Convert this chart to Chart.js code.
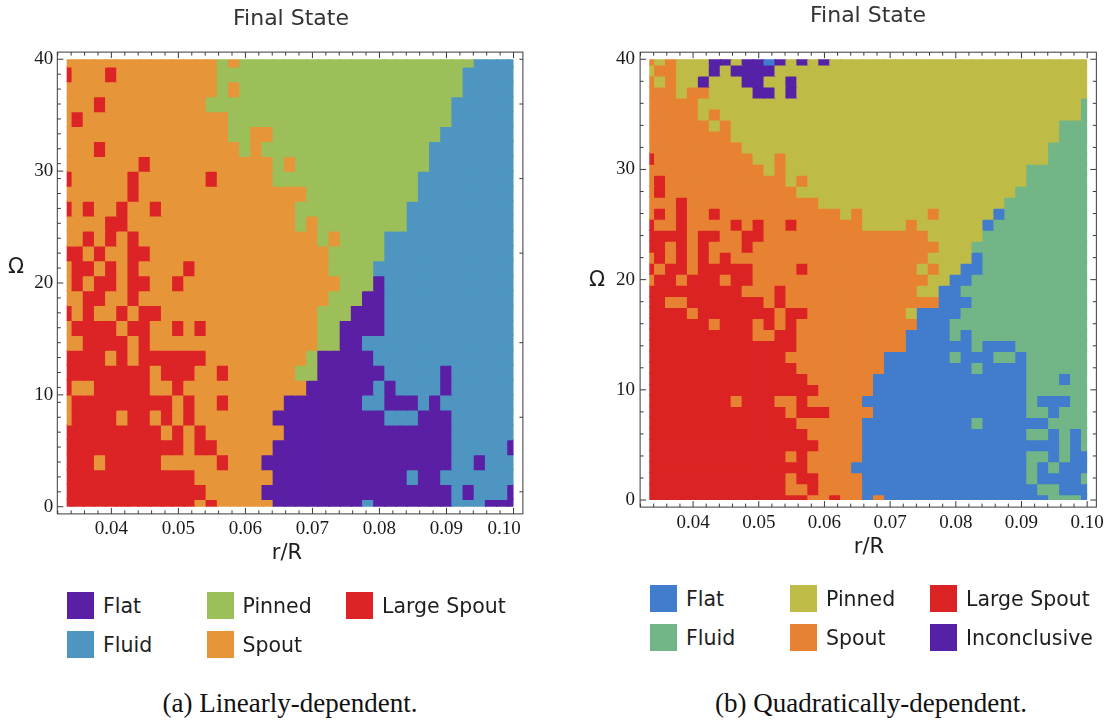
<!DOCTYPE html>
<html>
<head>
<meta charset="utf-8">
<title>Final State</title>
<script src="https://cdn.jsdelivr.net/npm/chart.js@4.4.1/dist/chart.umd.min.js"></script>
<style>
  html, body { margin: 0; padding: 0; background: #ffffff; }
  body { position: relative; width: 1109px; height: 721px; overflow: hidden;
         font-family: "DejaVu Sans", sans-serif; color: #1e1e1e; }
  canvas { position: absolute; top: 0; }
  .lbl { position: absolute; white-space: nowrap; transform: translate(-50%, -50%); line-height: 1; }
  .title { font-size: 22px; color: #333333; }
  .axis { font-size: 21px; color: #1e1e1e; }
  .caption { font-family: "Liberation Serif", serif; font-size: 27px; color: #111111; }
  .key { position: absolute; width: 27px; height: 27px; }
  .keytext { position: absolute; font-size: 20.5px; transform: translateY(-50%); white-space: nowrap; line-height: 1; color: #1e1e1e; }
</style>
</head>
<body>
<canvas id="linear" width="555" height="560" style="left:0px;width:555px;height:560px"></canvas>
<canvas id="quadratic" width="554" height="560" style="left:555px;width:554px;height:560px"></canvas>
<div id="labels"></div>
<script>
// Parameter ranges of the sweep
const R_RANGE = [1 / 30, 0.1];
const OMEGA_RANGE = [0, 40];

// Tick marks
const rMajorTicks = [0.04, 0.05, 0.06, 0.07, 0.08, 0.09, 0.10];
const rMinorStep = 0.002;
const omegaMajorTicks = [0, 10, 20, 30, 40];

// Final-state categories
const stateNames = { F: 'Flat', U: 'Fluid', N: 'Pinned', S: 'Spout', L: 'Large Spout', I: 'Inconclusive' };
const linearLegendOrder = ['F', 'N', 'L', 'U', 'S'];
const quadraticLegendOrder = ['F', 'N', 'L', 'U', 'S', 'I'];

// Linearly-dependent run: one row per Omega sample (top row = 40, bottom row = 0),
// run-length coded along r/R (41 samples per row).
const linearStates = [
  '14S 1N 1S 21N 4U',
  '1L 3S 1L 9S 22N 5U',
  '14S 1N 1S 20N 5U',
  '3S 1L 9S 22N 6U',
  '1S 1L 13S 20N 6U',
  '15S 2N 2S 15N 7U',
  '3S 1L 12S 1N 1S 15N 8U',
  '7S 1L 11S 1N 1S 12N 8U',
  '1L 5S 1L 6S 1L 5S 13N 9U',
  '6S 1L 15S 10N 9U',
  '1L 1S 1L 2S 1L 2S 1L 12S 10N 10U',
  '4S 2L 15S 1N 1S 8N 10U',
  '2S 1L 1S 1L 1S 1L 16S 1N 1S 4N 12U',
  '2L 1S 1L 2S 2L 16S 5N 12U',
  '1S 2L 1S 1L 1S 1L 4S 1L 12S 4N 13U',
  '1S 1L 1S 2L 1S 2L 2S 1L 14S 3N 1F 12U',
  '2S 2L 2S 1L 17S 3N 2F 12U',
  '1L 1S 1L 2S 1L 1S 2L 14S 3N 3F 12U',
  '1S 4L 1S 2L 2S 1L 1S 1L 10S 2N 4F 12U',
  '2S 4L 1S 1L 15S 2N 2F 14U',
  '4L 1S 1L 1S 6L 9S 1N 5F 13U',
  '8L 1S 3L 2S 1L 6S 2N 6F 5U 1F 6U',
  '1L 2S 5L 2S 1L 11S 6F 1U 1F 4U 1F 6U',
  '1S 9L 1S 1L 2S 1L 5S 7F 2U 3F 1U 1F 7U',
  '1S 4L 1S 2L 1S 1L 1S 1L 7S 10F 3U 3F 6U',
  '9L 1S 1L 1S 1L 7S 15F 6U',
  '11L 1S 2L 5S 16F 5U 1F',
  '3L 1S 5L 5S 1L 3S 17F 2U 1F 3U',
  '12L 7S 12F 1U 2F 7U',
  '13L 5S 17F 1U 1F 3U 1F',
  '12L 1S 1L 5S 8F 1U 7F 3U 3F'
];

// Quadratically-dependent run: 41 Omega rows (top = 40) x 41 r/R samples.
const quadraticStates = [
  '1S 1N 1S 3N 2I 1N 2I 1F 1I 1N 1I 1N 1I 24N',
  '1N 2S 3N 1I 1N 4I 29N',
  '1S 1N 1S 2N 1I 3N 2I 2N 1I 27N',
  '3S 1N 2S 4N 2I 1N 1I 27N',
  '5S 35N 1U',
  '5S 1N 1S 33N 1U',
  '6S 1N 1S 30N 3U',
  '8S 30N 3U',
  '9S 28N 4U',
  '1L 9S 2N 1S 24N 4U',
  '11S 1N 1S 22N 6U',
  '1S 1L 11S 1N 1S 20N 6U',
  '1S 1L 12S 20N 7U',
  '3S 1L 12S 17N 8U',
  '1S 1L 1S 1L 2S 1L 11S 1N 1S 6N 1S 5N 1F 8U',
  '1L 2S 1L 4S 1L 1S 1L 2S 1L 6S 4N 1S 6N 1F 9U',
  '4L 1S 2L 2S 2L 15S 5N 10U',
  '2L 1S 1L 1S 1L 3S 1L 17S 3N 11U',
  '1S 1L 1S 1L 1S 1L 1S 1L 18S 4N 1F 10U',
  '1L 1S 2L 1S 5L 4S 1L 10S 1N 1S 2N 2F 10U',
  '1S 2L 1S 3L 1S 2L 16S 2N 2F 11U',
  '9L 3S 1L 12S 2N 2F 12U',
  '2L 2S 7L 1S 1L 14S 3F 11U',
  '4L 1S 7L 1S 2L 9S 1N 4F 12U',
  '6L 1S 3L 1S 1L 1S 1L 11S 3F 13U',
  '10L 2S 2L 10S 4F 1U 1F 11U',
  '14L 10S 6F 1U 3F 7U',
  '13L 9S 6F 1U 3F 2U 1F 6U',
  '14L 8S 8F 1U 4F 6U',
  '15L 6S 14F 3U 1F 2U',
  '16L 5S 14F 6U',
  '8L 1S 3L 2S 1L 5S 15F 1U 3F 2U',
  '13L 1S 3L 4S 14F 2U 1F 3U',
  '14L 6S 10F 1U 6F 4U',
  '15L 5S 15F 2U 1F 1U 1F 1U',
  '16L 4S 18F 1U 1F 1U',
  '13L 1S 1L 5S 15F 2U 1F 1U 2F',
  '15L 4S 16F 1U 1F 1U 3F',
  '13L 1S 2L 4S 15F 1U 4F 1U',
  '13L 2S 1L 4S 16F 2U 3F',
  '15L 2S 1L 2S 1F 1S 15F 3U 1F'
];

// Colour schemes of the two panels
const linearPalette = { F: '#5a1fa5', U: '#4e96c1', N: '#9dbf5a', S: '#e69538', L: '#dc2326' };
const quadraticPalette = { F: '#427dcd', U: '#72b586', N: '#bfbb47', S: '#e88233', L: '#dc2324', I: '#5521a6' };

function decodeRow(rle) {
  const out = [];
  rle.trim().split(/\s+/).forEach(tok => {
    const m = tok.match(/^(\d*)([A-Z])$/);
    const n = m[1] ? parseInt(m[1], 10) : 1;
    for (let i = 0; i < n; i++) out.push(m[2]);
  });
  return out;
}

// Restricts the cells to the sampled parameter rectangle
const dataClip = {
  id: 'dataClip',
  beforeDatasetsDraw(chart, args, o) {
    const { ctx, scales: { x, y } } = chart;
    const l = x.getPixelForValue(o.xMin), r = x.getPixelForValue(o.xMax);
    const t = y.getPixelForValue(o.yMax), b = y.getPixelForValue(o.yMin);
    ctx.save();
    ctx.beginPath();
    ctx.rect(l, t, r - l, b - t);
    ctx.clip();
  },
  afterDatasetsDraw(chart) {
    chart.ctx.restore();
  }
};

// Frame with inward-pointing tick marks on all four sides
const frameTicks = {
  id: 'frameTicks',
  afterDraw(chart, args, o) {
    const { ctx, chartArea: a, scales: { x, y } } = chart;
    ctx.save();
    ctx.strokeStyle = '#3a3a3a';
    ctx.lineWidth = 1;
    ctx.strokeRect(a.left, a.top, a.right - a.left, a.bottom - a.top);
    ctx.beginPath();
    x.ticks.forEach(t => {
      const px = x.getPixelForValue(t.value);
      const len = t.isMajor ? 6 : 3.5;
      ctx.moveTo(px, a.bottom); ctx.lineTo(px, a.bottom - len);
      ctx.moveTo(px, a.top); ctx.lineTo(px, a.top + len);
    });
    y.ticks.forEach(t => {
      const py = y.getPixelForValue(t.value);
      const len = t.isMajor ? 6 : 3.5;
      ctx.moveTo(a.left, py); ctx.lineTo(a.left + len, py);
    });
    (o.rightTicks || y.ticks).forEach(t => {
      const py = y.getPixelForValue(t.value);
      const len = t.isMajor ? 6 : 3.5;
      ctx.moveTo(a.right, py); ctx.lineTo(a.right - len, py);
    });
    ctx.stroke();
    ctx.restore();
  }
};

function isClose(a, b) { return Math.abs(a - b) < 1e-9; }

function makePanel(canvasId, rows, palette, cfg) {
  const grid = rows.map(decodeRow);
  const nRows = grid.length, nCols = grid[0].length;
  const rStep = (R_RANGE[1] - R_RANGE[0]) / (nCols - 1);
  const wStep = (OMEGA_RANGE[1] - OMEGA_RANGE[0]) / (nRows - 1);
  const rSpan = R_RANGE[1] - R_RANGE[0];
  const wSpan = OMEGA_RANGE[1] - OMEGA_RANGE[0];

  const datasets = grid.map((row, k) => {
    const w = OMEGA_RANGE[0] + (nRows - 1 - k) * wStep;
    return {
      data: row.map((code, i) => ({ x: R_RANGE[0] + i * rStep, y: [w - wStep / 2, w + wStep / 2] })),
      backgroundColor: row.map(code => palette[code]),
      borderWidth: 0,
      inflateAmount: 0.7,
      grouped: false,
      barPercentage: 1,
      categoryPercentage: 1
    };
  });

  const xMin = R_RANGE[0] - cfg.xPad * rSpan, xMax = R_RANGE[1] + cfg.xPad * rSpan;
  const yMin = OMEGA_RANGE[0] - cfg.yPad * wSpan, yMax = OMEGA_RANGE[1] + cfg.yPad * wSpan;

  const xTickList = [];
  for (let k = Math.ceil(xMin / rMinorStep - 1e-9); k <= Math.floor(xMax / rMinorStep + 1e-9); k++) {
    const v = k * rMinorStep;
    xTickList.push({ value: v, isMajor: rMajorTicks.some(m => isClose(m, v)) });
  }
  const yTickList = [];
  const minorStep = cfg.omegaMinorStep === 'rows' ? wStep : cfg.omegaMinorStep;
  for (let k = 0; OMEGA_RANGE[0] + k * minorStep <= OMEGA_RANGE[1] + 1e-9; k++) {
    const v = OMEGA_RANGE[0] + k * minorStep;
    yTickList.push({ value: v, isMajor: omegaMajorTicks.some(m => isClose(m, v)) });
  }
  omegaMajorTicks.forEach(m => {
    if (!yTickList.some(t => isClose(t.value, m))) yTickList.push({ value: m, isMajor: true });
  });
  yTickList.sort((a, b) => a.value - b.value);
  const rightTicks = cfg.rightEvery
    ? yTickList.filter(t => t.isMajor ? false : true).filter((t, i) => i % cfg.rightEvery === 0)
        .concat([{ value: OMEGA_RANGE[1], isMajor: false }])
    : null;

  const tickFont = { family: '"Liberation Serif", serif', size: 19 };
  // the last r/R label is nudged inwards when the panel is tight on the right
  const rLabel = v => v.toFixed(2) + (isClose(v, R_RANGE[1]) ? cfg.lastLabelPad : '');

  return new Chart(document.getElementById(canvasId), {
    type: 'bar',
    data: { datasets },
    options: {
      responsive: false,
      devicePixelRatio: 1,
      animation: false,
      events: [],
      layout: { padding: { left: 0, right: cfg.padRight, top: cfg.padTop, bottom: 0 } },
      plugins: {
        legend: { display: false },
        tooltip: { enabled: false },
        dataClip: { xMin: R_RANGE[0], xMax: R_RANGE[1], yMin: OMEGA_RANGE[0], yMax: OMEGA_RANGE[1] },
        frameTicks: { rightTicks }
      },
      scales: {
        x: {
          type: 'linear',
          bounds: 'data',
          min: xMin, max: xMax,
          offset: false,
          grid: { display: false, drawTicks: false, offset: false },
          border: { display: false },
          afterBuildTicks: s => { s.ticks = xTickList.map(t => ({ value: t.value, isMajor: t.isMajor })); },
          afterFit: s => { s.height = cfg.xAxisHeight; },
          ticks: {
            autoSkip: false, maxRotation: 0, minRotation: 0,
            padding: cfg.xTickPad, color: '#1a1a1a', font: tickFont,
            callback: (v, i, ticks) => ticks[i].isMajor ? rLabel(v) : ''
          }
        },
        y: {
          type: 'linear',
          bounds: 'data',
          min: yMin, max: yMax,
          grid: { display: false, drawTicks: false },
          border: { display: false },
          afterBuildTicks: s => { s.ticks = yTickList.map(t => ({ value: t.value, isMajor: t.isMajor })); },
          afterFit: s => { s.width = cfg.yAxisWidth; },
          ticks: {
            autoSkip: false, padding: cfg.yTickPad, color: '#1a1a1a', font: tickFont,
            callback: (v, i, ticks) => ticks[i].isMajor ? String(Math.round(v)) : ''
          }
        }
      }
    },
    plugins: [dataClip, frameTicks]
  });
}

makePanel('linear', linearStates, linearPalette, {
  xPad: 0.021, yPad: 0.016, omegaMinorStep: 'rows', rightEvery: 5,
  padRight: 32.1, padTop: 52.1, yAxisWidth: 57.3, xAxisHeight: 46.1,
  xTickPad: 4, yTickPad: 4, lastLabelPad: '\u2002\u2002'
});
makePanel('quadratic', quadraticStates, quadraticPalette, {
  xPad: 0.021, yPad: 0.016, omegaMinorStep: 2, rightEvery: 0,
  padRight: 10.8, padTop: 52.2, yAxisWidth: 85.1, xAxisHeight: 52.9,
  xTickPad: 5, yTickPad: 5, lastLabelPad: ''
});

// Titles, axis names, legends and captions
const labels = document.getElementById('labels');
function addText(cls, text, x, y) {
  const d = document.createElement('div');
  d.className = 'lbl ' + cls;
  d.textContent = text;
  d.style.left = x + 'px';
  d.style.top = y + 'px';
  labels.appendChild(d);
}
function addLegend(order, palette, x0, y0, colGap, rowGap) {
  order.forEach((code, i) => {
    const col = i % 3, row = Math.floor(i / 3);
    const left = x0 + col * colGap, top = y0 + row * rowGap;
    const sq = document.createElement('div');
    sq.className = 'key';
    sq.style.left = left + 'px';
    sq.style.top = top + 'px';
    sq.style.background = palette[code];
    labels.appendChild(sq);
    const t = document.createElement('div');
    t.className = 'keytext';
    t.textContent = stateNames[code];
    t.style.left = (left + 36) + 'px';
    t.style.top = (top + 14) + 'px';
    labels.appendChild(t);
  });
}

addText('title', 'Final State', 291, 18);
addText('title', 'Final State', 868, 15);
addText('axis', 'Ω', 16, 266);
addText('axis', 'Ω', 597, 279);
addText('axis', 'r/R', 287, 552);
addText('axis', 'r/R', 869, 546);
addLegend(linearLegendOrder, linearPalette, 67, 591.7, 139.5, 39);
addLegend(quadraticLegendOrder, quadraticPalette, 650, 585, 140, 39);
addText('caption', '(a) Linearly-dependent.', 290, 703);
addText('caption', '(b) Quadratically-dependent.', 871, 703);
</script>
</body>
</html>
